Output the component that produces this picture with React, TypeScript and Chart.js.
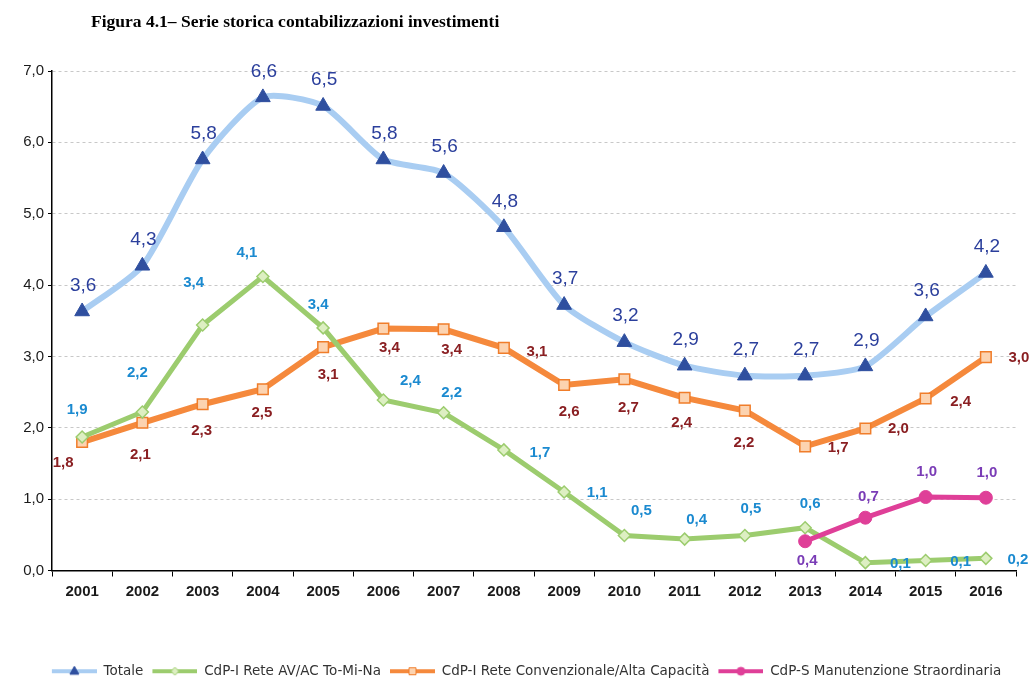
import React, { useEffect, useRef } from 'react';
import { Chart, registerables } from 'chart.js';

Chart.register(...registerables);

const TITLE = 'Figura 4.1– Serie storica contabilizzazioni investimenti';

const YEARS = ['2001', '2002', '2003', '2004', '2005', '2006', '2007', '2008', '2009', '2010', '2011', '2012', '2013', '2014', '2015', '2016'];

const TOTALE = [3.63, 4.27, 5.76, 6.63, 6.51, 5.76, 5.57, 4.81, 3.72, 3.2, 2.87, 2.73, 2.73, 2.86, 3.56, 4.17];
const AV_AC = [1.87, 2.22, 3.44, 4.12, 3.4, 2.39, 2.21, 1.69, 1.1, 0.49, 0.44, 0.49, 0.6, 0.11, 0.14, 0.17];
const CONVENZIONALE = [1.8, 2.07, 2.33, 2.54, 3.13, 3.39, 3.38, 3.12, 2.6, 2.68, 2.42, 2.24, 1.74, 1.99, 2.41, 2.99];
const MANUTENZIONE = [null, null, null, null, null, null, null, null, null, null, null, null, 0.41, 0.74, 1.03, 1.02];

const SERIES_NAMES = ['Totale', 'CdP-I Rete AV/AC To-Mi-Na', 'CdP-I Rete Convenzionale/Alta Capacità', 'CdP-S Manutenzione Straordinaria'];

const Y_TICKS = [0, 1, 2, 3, 4, 5, 6, 7];

// label placement (pixel offsets from the point)
const OFF_TOTALE = YEARS.map(() => [1, -26]);
const OFF_AV = [[-5, -27], [-5, -39], [-9, -42], [-16, -24], [-5, -23], [27, -19], [8, -20], [36, 3], [33, 1], [17, -25], [12, -19], [6, -27], [5, -24], [35, 1], [35, 1], [32, 1]];
const OFF_CONV = [[-19, 21], [-2, 32], [-1, 27], [-1, 24], [5, 28], [6, 19], [8, 21], [33, 4], [5, 27], [4, 29], [-3, 25], [-1, 32], [33, 2], [33, 0], [35, 3], [33, 1]];
const OFF_MAN = [null, null, null, null, null, null, null, null, null, null, null, null, [2, 20], [3, -21], [1, -25], [1, -25]];

const LABEL_OFFSETS = [OFF_TOTALE, OFF_AV, OFF_CONV, OFF_MAN];
const LABEL_STYLES = [
  { font: '19px "Liberation Sans", Arial, sans-serif', color: '#2b3f9c' },
  { font: 'bold 15px "Liberation Sans", Arial, sans-serif', color: '#1b8ad0' },
  { font: 'bold 15px "Liberation Sans", Arial, sans-serif', color: '#8a1f22' },
  { font: 'bold 15px "Liberation Sans", Arial, sans-serif', color: '#7a3cb6' },
];

const fmt = (v: number) => v.toFixed(1).replace('.', ',');

const ICON_W = 50;

function makeIcon(kind: string, line: string, fill: string, stroke: string, lw: number) {
  const c = document.createElement('canvas');
  c.width = ICON_W;
  c.height = 14;
  const g = c.getContext('2d')!;
  const x0 = ICON_W - 45;
  const cx = x0 + 22.5;
  g.strokeStyle = line;
  g.lineWidth = lw;
  g.beginPath();
  g.moveTo(x0, 7);
  g.lineTo(ICON_W, 7);
  g.stroke();
  g.fillStyle = fill;
  g.strokeStyle = stroke;
  g.lineWidth = 1;
  g.beginPath();
  if (kind === 'triangle') {
    g.moveTo(cx, 2);
    g.lineTo(cx + 4.5, 10);
    g.lineTo(cx - 4.5, 10);
    g.closePath();
  } else if (kind === 'diamond') {
    g.moveTo(cx, 3);
    g.lineTo(cx + 4, 7);
    g.lineTo(cx, 11);
    g.lineTo(cx - 4, 7);
    g.closePath();
  } else if (kind === 'square') {
    g.rect(cx - 3.5, 3.5, 7, 7);
  } else {
    g.arc(cx, 7, 4, 0, Math.PI * 2);
  }
  g.fill();
  g.stroke();
  return c;
}

const titlePlugin = {
  id: 'figTitle',
  afterLayout(chart: any) {
    // let the y tick labels use the space left of the padded area
    const y = chart.scales.y;
    if (y) y.left = 0;
  },
  beforeDraw(chart: any) {
    const ctx = chart.ctx;
    ctx.save();
    ctx.font = 'bold 17.5px "Liberation Serif", "Times New Roman", serif';
    ctx.fillStyle = '#000';
    ctx.textAlign = 'left';
    ctx.textBaseline = 'middle';
    ctx.fillText(TITLE, 91, 22);
    ctx.restore();
  },
};

const labelPlugin = {
  id: 'valueLabels',
  afterDatasetsDraw(chart: any) {
    const ctx = chart.ctx;
    chart.data.datasets.forEach((ds: any, i: number) => {
      const meta = chart.getDatasetMeta(i);
      const st = LABEL_STYLES[i];
      const offs = LABEL_OFFSETS[i];
      meta.data.forEach((pt: any, j: number) => {
        const v = ds.data[j];
        const o = offs[j];
        if (v == null || !o) return;
        ctx.save();
        ctx.font = st.font;
        ctx.fillStyle = st.color;
        ctx.textAlign = 'center';
        ctx.textBaseline = 'middle';
        ctx.fillText(fmt(v), pt.x + o[0], pt.y + o[1]);
        ctx.restore();
      });
    });
  },
};

export default function App() {
  const ref = useRef<HTMLCanvasElement>(null);

  useEffect(() => {
    if (!ref.current) return;
    const icons = [
      makeIcon('triangle', '#a9cdf2', '#2f4f9f', '#2f4f9f', 4),
      makeIcon('diamond', '#9ccc6e', '#ddefc2', '#9ccc6e', 4),
      makeIcon('square', '#f5893c', '#fcd3b0', '#f07d2a', 4),
      makeIcon('circle', '#df3f98', '#df3f98', '#df3f98', 4),
    ];
    const chart = new Chart(ref.current, {
      type: 'line',
      data: {
        labels: YEARS,
        datasets: [
          {
            label: SERIES_NAMES[0],
            data: TOTALE,
            borderColor: '#a9cdf2',
            borderWidth: 6,
            tension: 0.22,
            pointStyle: 'triangle',
            pointRadius: 8.5,
            pointBackgroundColor: '#2f4f9f',
            pointBorderColor: '#2f4f9f',
            pointBorderWidth: 1,
            order: 3,
          },
          {
            label: SERIES_NAMES[1],
            data: AV_AC,
            borderColor: '#9ccc6e',
            borderWidth: 5,
            tension: 0,
            pointStyle: 'rectRot',
            pointRadius: 6,
            pointBackgroundColor: '#ddefc2',
            pointBorderColor: '#9ccc6e',
            pointBorderWidth: 1.5,
            order: 1,
          },
          {
            label: SERIES_NAMES[2],
            data: CONVENZIONALE,
            borderColor: '#f5893c',
            borderWidth: 6,
            tension: 0,
            pointStyle: 'rect',
            pointRadius: 7.5,
            pointBackgroundColor: '#fcd3b0',
            pointBorderColor: '#f07d2a',
            pointBorderWidth: 1.5,
            order: 2,
          },
          {
            label: SERIES_NAMES[3],
            data: MANUTENZIONE,
            borderColor: '#df3f98',
            borderWidth: 5,
            tension: 0,
            pointStyle: 'circle',
            pointRadius: 6.5,
            pointBackgroundColor: '#df3f98',
            pointBorderColor: '#df3f98',
            pointBorderWidth: 1,
            spanGaps: false,
            order: 0,
          },
        ],
      },
      options: {
        animation: false,
        responsive: false,
        devicePixelRatio: 1,
        layout: { padding: { top: 71, left: 32, right: 19, bottom: -8 } },
        plugins: {
          title: { display: false },
          tooltip: { enabled: false },
          legend: {
            display: true,
            position: 'bottom',
            labels: {
              usePointStyle: true,
              pointStyleWidth: ICON_W,
              padding: 4,
              font: { family: '"DejaVu Sans", sans-serif', size: 13.5 },
              color: '#333',
              generateLabels: (c: any) =>
                c.data.datasets.map((ds: any, i: number) => ({
                  text: ds.label,
                  pointStyle: icons[i],
                  fillStyle: 'transparent',
                  strokeStyle: 'transparent',
                  lineWidth: 0,
                  hidden: false,
                  datasetIndex: i,
                  fontColor: '#333',
                })),
            },
          },
        },
        scales: {
          x: {
            offset: true,
            afterFit: (s: any) => {
              s.height = 90;
            },
            grid: {
              display: true,
              offset: true,
              drawOnChartArea: false,
              drawTicks: true,
              tickLength: 6,
              tickColor: '#000',
              color: '#000',
            },
            border: { display: true, color: '#000', width: 1.5 },
            ticks: {
              color: '#1a1a1a',
              padding: 6,
              font: { family: '"Liberation Sans", Arial, sans-serif', size: 15, weight: 'bold' },
            },
          },
          y: {
            min: 0,
            max: 7,
            afterFit: (s: any) => {
              s.width = 20;
            },
            afterBuildTicks: (s: any) => {
              s.ticks = Y_TICKS.map((v) => ({ value: v }));
            },
            grid: {
              color: '#c8c8c8',
              lineWidth: 1,
              tickColor: '#000',
              tickLength: 4,
              drawTicks: true,
            },
            border: { display: true, color: '#000', width: 1.5, dash: [3, 3] },
            ticks: {
              color: '#1a1a1a',
              padding: 4,
              font: { family: '"Liberation Sans", Arial, sans-serif', size: 15 },
              callback: (v: any) => fmt(Number(v)),
            },
          },
        },
      },
      plugins: [titlePlugin, labelPlugin],
    } as any);
    return () => chart.destroy();
  }, []);

  return (
    <div style={{ position: 'absolute', left: 0, top: 0, width: 1035, height: 680, background: '#fff' }}>
      <canvas ref={ref} width={1035} height={680} style={{ display: 'block' }} />
    </div>
  );
}
